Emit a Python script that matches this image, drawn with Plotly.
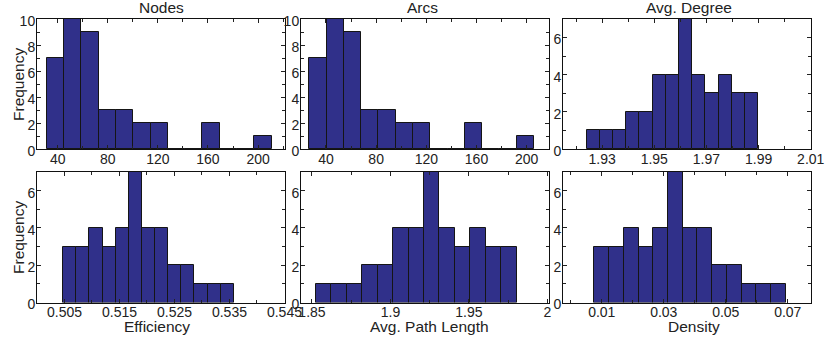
import plotly.graph_objects as go

# ---- data ----
titles_top = ["Nodes", "Arcs", "Avg. Degree"]
titles_bottom = ["Efficiency", "Avg. Path Length", "Density"]

nodes_counts = [7, 10, 9, 3, 3, 2, 2, 0, 0, 2, 0, 0, 1]
nodes_bin_start, nodes_bin_width = 31.2, 13.82

arcs_counts = [7, 10, 9, 3, 3, 2, 2, 0, 0, 2, 0, 0, 1]
arcs_bin_start, arcs_bin_width = 26.7, 13.78

degree_counts = [1, 1, 1, 2, 2, 4, 4, 7, 4, 3, 4, 3, 3]
degree_bin_start, degree_bin_width = 1.9241, 0.005054

eff_counts = [3, 3, 4, 3, 4, 7, 4, 4, 2, 2, 1, 1, 1]
eff_bin_start, eff_bin_width = 0.50477, 0.002387

path_counts = [1, 1, 1, 2, 2, 4, 4, 7, 4, 3, 4, 3, 3]
path_bin_start, path_bin_width = 1.8524, 0.00985

dens_counts = [3, 3, 4, 3, 4, 7, 4, 4, 2, 2, 1, 1, 1]
dens_bin_start, dens_bin_width = 0.0076, 0.004754

nodes_ticks = [40, 80, 120, 160, 200]
arcs_ticks = [40, 80, 120, 160, 200]
degree_ticks = [1.93, 1.95, 1.97, 1.99, 2.01]
eff_ticks = [0.505, 0.515, 0.525, 0.535, 0.545]
path_ticks = [1.85, 1.9, 1.95, 2.0]
path_ticklabels = ["1.85", "1.9", "1.95", "2"]
dens_ticks = [0.01, 0.03, 0.05, 0.07]

# ---- layout parameters ----
W, H = 835, 338
FONT = "Liberation Sans, Arial, Helvetica, sans-serif"
BAR_COLOR = "#30308a"
col_px = [(37, 285), (301, 549), (563, 811)]
row_px = [(19, 149), (172, 302.5)]

panels = [
    dict(counts=nodes_counts, start=nodes_bin_start, width=nodes_bin_width,
         xr=[23.5, 221.5], ticks=nodes_ticks, text=None, minor=20, yr=[0, 10]),
    dict(counts=arcs_counts, start=arcs_bin_start, width=arcs_bin_width,
         xr=[20.1, 217.8], ticks=arcs_ticks, text=None, minor=20, yr=[0, 10]),
    dict(counts=degree_counts, start=degree_bin_start, width=degree_bin_width,
         xr=[1.915, 2.0101], ticks=degree_ticks, text=None, minor=0.01, yr=[0, 7]),
    dict(counts=eff_counts, start=eff_bin_start, width=eff_bin_width,
         xr=[0.5, 0.5451], ticks=eff_ticks, text=None, minor=0.005, yr=[0, 7]),
    dict(counts=path_counts, start=path_bin_start, width=path_bin_width,
         xr=[1.843, 2.001], ticks=path_ticks, text=path_ticklabels, minor=0.025, yr=[0, 7]),
    dict(counts=dens_counts, start=dens_bin_start, width=dens_bin_width,
         xr=[-0.0025, 0.0775], ticks=dens_ticks, text=None, minor=0.01, yr=[0, 7]),
]

fig = go.Figure()
layout = dict(
    width=W, height=H,
    margin=dict(l=0, r=0, t=0, b=0, pad=0, autoexpand=False),
    paper_bgcolor="white", plot_bgcolor="white",
    showlegend=False, bargap=0,
    font=dict(family=FONT, size=14, color="#222"),
)
annotations = []

for i, p in enumerate(panels):
    r, c = divmod(i, 3)
    idx = "" if i == 0 else str(i + 1)
    x0, x1 = col_px[c]
    y0, y1 = row_px[r]
    xdom = [x0 / W, x1 / W]
    ydom = [1 - y1 / H, 1 - y0 / H]
    centers = [p["start"] + p["width"] * (k + 0.5) for k in range(len(p["counts"]))]
    fig.add_trace(go.Bar(
        x=centers, y=p["counts"], width=[p["width"]] * len(p["counts"]),
        marker=dict(color=BAR_COLOR, line=dict(color="#151515", width=1)),
        xaxis="x" + idx, yaxis="y" + idx, hoverinfo="x+y",
    ))
    layout["xaxis" + idx] = dict(
        domain=xdom, range=p["xr"], anchor="y" + idx, automargin=False,
        tickvals=p["ticks"], ticktext=p["text"] if p["text"] else [f"{t:g}" for t in p["ticks"]],
        ticks="inside", ticklen=4, tickcolor="#222", tickwidth=1,
        minor=dict(dtick=p["minor"], tick0=p["ticks"][0], ticks="inside", ticklen=3, tickcolor="#222"),
        showline=True, linecolor="#111", linewidth=1, mirror="ticks",
        showgrid=False, zeroline=False, fixedrange=True,
        tickfont=dict(size=14, family=FONT, color="#222"),
        ticklabelstandoff=-3,
    )
    layout["yaxis" + idx] = dict(
        domain=ydom, range=p["yr"], anchor="x" + idx, automargin=False,
        tick0=0, dtick=2,
        ticks="inside", ticklen=4, tickcolor="#222", tickwidth=1,
        minor=dict(dtick=1, ticks="inside", ticklen=3, tickcolor="#222"),
        showline=True, linecolor="#111", linewidth=1, mirror="ticks",
        showgrid=False, zeroline=False, fixedrange=True,
        tickfont=dict(size=14, family=FONT, color="#222"),
        ticklabelstandoff=-2, ticklabelshift=2,
    )

# titles above top row
top_title_x = [161, 422, 689]
for t, xc in zip(titles_top, top_title_x):
    annotations.append(dict(text=t, x=xc / W, y=1 - 18 / H, xref="paper", yref="paper",
                            xanchor="center", yanchor="bottom", showarrow=False,
                            font=dict(size=15.5, family=FONT, color="#222")))
# x labels below bottom row
bottom_title_x = [157, 430, 694]
for t, xc in zip(titles_bottom, bottom_title_x):
    annotations.append(dict(text=t, x=xc / W, y=1 - 326.5 / H, xref="paper", yref="paper",
                            xanchor="center", yanchor="middle", showarrow=False,
                            font=dict(size=15.5, family=FONT, color="#222")))
# y labels
for yc in [85, 238]:
    annotations.append(dict(text="Frequency", x=18 / W, y=1 - yc / H, xref="paper", yref="paper",
                            xanchor="center", yanchor="middle", textangle=-90, showarrow=False,
                            font=dict(size=15.5, family=FONT, color="#222")))

layout["annotations"] = annotations
fig.update_layout(**layout)
fig.write_html(
    "out.html",
    config={"displayModeBar": False},
    post_script="document.body.style.margin='0';document.body.style.overflow='hidden';",
)
